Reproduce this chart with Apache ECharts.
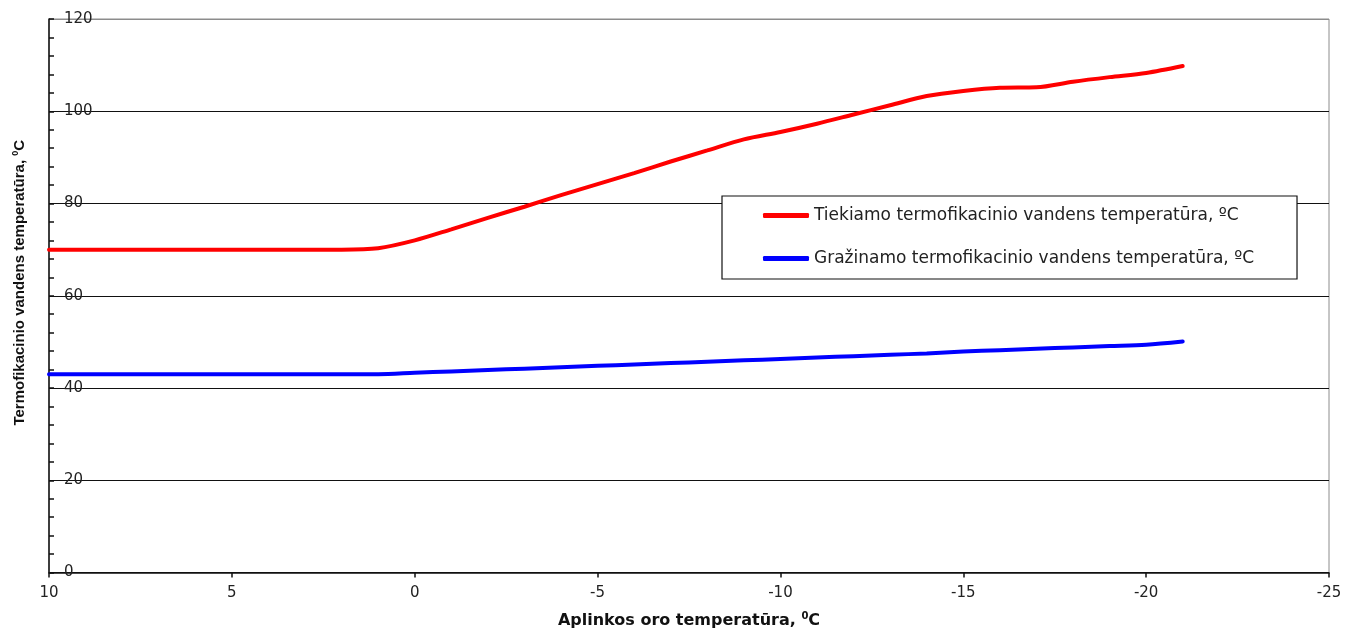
<!DOCTYPE html>
<html><head><meta charset="utf-8">
<script src="https://cdn.jsdelivr.net/npm/echarts@6/dist/echarts.min.js"></script>
<style>html,body{margin:0;padding:0;background:#fff}#c{width:1360px;height:634px}</style>
</head><body><div id="c"></div>
<script>
// Outdoor (ambient) temperature, °C
const outdoorTemp = [10,9,8,7,6,5,4,3,2,1,0,-1,-2,-3,-4,-5,-6,-7,-8,-9,-10,-11,-12,-13,-14,-15,-16,-17,-18,-19,-20,-21];
// Supply water temperature, °C
const supplyTemp = [70,70,70,70,70,70,70,70,70,70.3,72,74.4,76.9,79.3,81.8,84.2,86.6,89.1,91.5,93.9,95.5,97.3,99.3,101.3,103.3,104.4,105.1,105.2,106.4,107.4,108.3,109.8];
// Return water temperature, °C
const returnTemp = [43,43,43,43,43,43,43,43,43,43,43.3,43.6,43.9,44.2,44.5,44.8,45.1,45.4,45.7,46.0,46.3,46.6,46.9,47.2,47.5,47.9,48.2,48.5,48.8,49.1,49.4,50.1];
// Axis tick values
const xTicks = [-25,-20,-15,-10,-5,0,5,10];
const yTicks = [0,20,40,60,80,100,120];

const seriesNames = [
  'Tiekiamo termofikacinio vandens temperatūra, ºC',
  'Gražinamo termofikacinio vandens temperatūra, ºC'
];

const chart = echarts.init(document.getElementById('c'), null, {renderer:'canvas'});
chart.setOption({
  animation:false,
  backgroundColor:'#fff',
  grid:{left:49, right:31, top:19, bottom:57, show:true, borderColor:'#8c8c8c', borderWidth:1, backgroundColor:'transparent'},
  legend:{
    left:722, top:196, orient:'vertical',
    backgroundColor:'#fff', borderColor:'#111', borderWidth:1.2,
    padding:[11,43,12,41], itemGap:26,
    itemWidth:46, itemHeight:5, icon:'roundRect',
    textStyle:{fontFamily:'DejaVu Sans', fontSize:17, color:'#222', lineHeight:16},
    data:seriesNames
  },
  xAxis:{
    type:'value', inverse:true,
    min:xTicks[0], max:xTicks[xTicks.length-1], interval:5,
    axisLine:{show:true, onZero:false, lineStyle:{color:'#111', width:1.5}},
    axisTick:{show:true, inside:false, length:5, lineStyle:{color:'#111', width:1.5}},
    splitLine:{show:false},
    axisLabel:{fontFamily:'DejaVu Sans', fontSize:15, color:'#222', margin:13},
    name:'{t|Aplinkos oro temperatūra, }{s|0}{t|C}',
    nameLocation:'middle', nameGap:39,
    nameTextStyle:{rich:{
      t:{fontFamily:'DejaVu Sans', fontWeight:'bold', fontSize:16, color:'#111', lineHeight:19},
      s:{fontFamily:'DejaVu Sans', fontWeight:'bold', fontSize:10, color:'#111', verticalAlign:'top', lineHeight:19, padding:[0,0,6,0]}
    }}
  },
  yAxis:{
    type:'value',
    min:yTicks[0], max:yTicks[yTicks.length-1], interval:20,
    axisLine:{show:true, onZero:false, lineStyle:{color:'#111', width:1.5}},
    axisTick:{show:true, inside:true, length:5, lineStyle:{color:'#111', width:1.5}},
    minorTick:{show:true, splitNumber:5, length:5, lineStyle:{color:'#111', width:1.5}},
    splitLine:{show:true, lineStyle:{color:['#111','#111','#111','#111','#111','#111','#8c8c8c'], width:1.2}},
    axisLabel:{inside:true, margin:15, fontFamily:'DejaVu Sans', fontSize:15, color:'#222'},
    name:'{t|Termofikacinio vandens temperatūra, }{s|0}{t|C}',
    nameLocation:'middle', nameGap:21,
    nameTextStyle:{rich:{
      t:{fontFamily:'Liberation Sans', fontWeight:'bold', fontSize:15, color:'#111', lineHeight:17},
      s:{fontFamily:'Liberation Sans', fontWeight:'bold', fontSize:9, color:'#111', verticalAlign:'top', lineHeight:17, padding:[0,0,6,0]}
    }, padding:[0,0,0,26]}
  },
  series:[
    {name:seriesNames[0], type:'line', smooth:0.3, showSymbol:false, symbol:'none',
     lineStyle:{color:'#ff0000', width:4, cap:'round'}, itemStyle:{color:'#ff0000'},
     data:outdoorTemp.map((t,i)=>[t, supplyTemp[i]])},
    {name:seriesNames[1], type:'line', smooth:0.3, showSymbol:false, symbol:'none',
     lineStyle:{color:'#0000ff', width:4, cap:'round'}, itemStyle:{color:'#0000ff'},
     data:outdoorTemp.map((t,i)=>[t, returnTemp[i]])}
  ]
});
</script></body></html>
